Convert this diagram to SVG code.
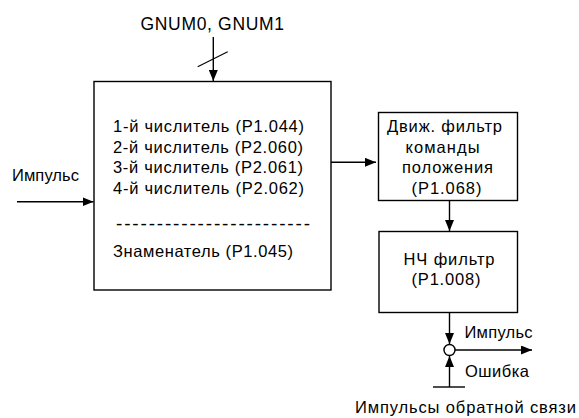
<svg xmlns="http://www.w3.org/2000/svg" width="579" height="418" viewBox="0 0 579 418">
<style>
text{font-family:"Liberation Sans",Arial,sans-serif;font-size:16.5px;fill:#000}
.box{fill:#fff;stroke:#000;stroke-width:1.4}
.ln{stroke:#000;stroke-width:1.4;fill:none}
</style>
<defs>
<marker id="ah" viewBox="0 0 11 9" refX="11" refY="4.5" markerWidth="11" markerHeight="9" markerUnits="userSpaceOnUse" orient="auto">
<path d="M0,0 L11,4.5 L0,9 Z" fill="#000"/>
</marker>
</defs>
<rect width="579" height="418" fill="#fff"/>
<g id="main">
<rect class="box" x="94" y="81.5" width="237" height="208.5"/>
<text x="113" y="131.5" textLength="191" lengthAdjust="spacing">1-й числитель (P1.044)</text>
<text x="113" y="152.5" textLength="190" lengthAdjust="spacing">2-й числитель (P2.060)</text>
<text x="113" y="173" textLength="190" lengthAdjust="spacing">3-й числитель (P2.061)</text>
<text x="113" y="193.5" textLength="191" lengthAdjust="spacing">4-й числитель (P2.062)</text>
<text x="116" y="229.5" style="font-size:19px" textLength="194" lengthAdjust="spacing">------------------------</text>
<text x="113" y="257" textLength="180" lengthAdjust="spacing">Знаменатель (P1.045)</text>
</g>
<g id="filter1">
<rect class="box" x="378.5" y="112.5" width="139" height="88"/>
<text x="387" y="131.5" textLength="115" lengthAdjust="spacing">Движ. фильтр</text>
<text x="405.5" y="152.5" textLength="74" lengthAdjust="spacing">команды</text>
<text x="402" y="173" textLength="91" lengthAdjust="spacing">положения</text>
<text x="411.5" y="193.5" textLength="70" lengthAdjust="spacing">(P1.068)</text>
</g>
<g id="filter2">
<rect class="box" x="379" y="231.5" width="138.5" height="81"/>
<text x="403.5" y="265" textLength="91" lengthAdjust="spacing">НЧ фильтр</text>
<text x="411.5" y="285" textLength="69" lengthAdjust="spacing">(P1.008)</text>
</g>
<g id="junction">
<circle cx="449.5" cy="350" r="5.5" fill="#fff" stroke="#000" stroke-width="1.4"/>
</g>
<g id="labels">
<text x="140.5" y="29.5" style="font-size:17.5px" textLength="143.5" lengthAdjust="spacing">GNUM0, GNUM1</text>
<text x="12" y="181" textLength="67" lengthAdjust="spacing">Импульс</text>
<text x="464.5" y="338" textLength="68" lengthAdjust="spacing">Импульс</text>
<text x="465" y="377" textLength="64" lengthAdjust="spacing">Ошибка</text>
<text x="355" y="413" textLength="221" lengthAdjust="spacing">Импульсы обратной связи</text>
</g>
<g id="connectors">
<line class="ln" x1="213.3" y1="37" x2="213.3" y2="81" marker-end="url(#ah)"/>
<line x1="197.7" y1="66.7" x2="227.7" y2="51.7" stroke="#000" stroke-width="1.1"/>
<line class="ln" x1="17" y1="201.7" x2="93.5" y2="201.7" marker-end="url(#ah)"/>
<line class="ln" x1="331" y1="162.3" x2="376" y2="162.3" marker-end="url(#ah)"/>
<line class="ln" x1="449.5" y1="200.5" x2="449.5" y2="231" marker-end="url(#ah)"/>
<line class="ln" x1="449.5" y1="312.5" x2="449.5" y2="344" marker-end="url(#ah)"/>
<line class="ln" x1="455" y1="350" x2="532" y2="350" marker-end="url(#ah)"/>
<line class="ln" x1="449.5" y1="387" x2="449.5" y2="356" marker-end="url(#ah)"/>
<line class="ln" x1="433" y1="387" x2="465" y2="387"/>
</g>
</svg>
